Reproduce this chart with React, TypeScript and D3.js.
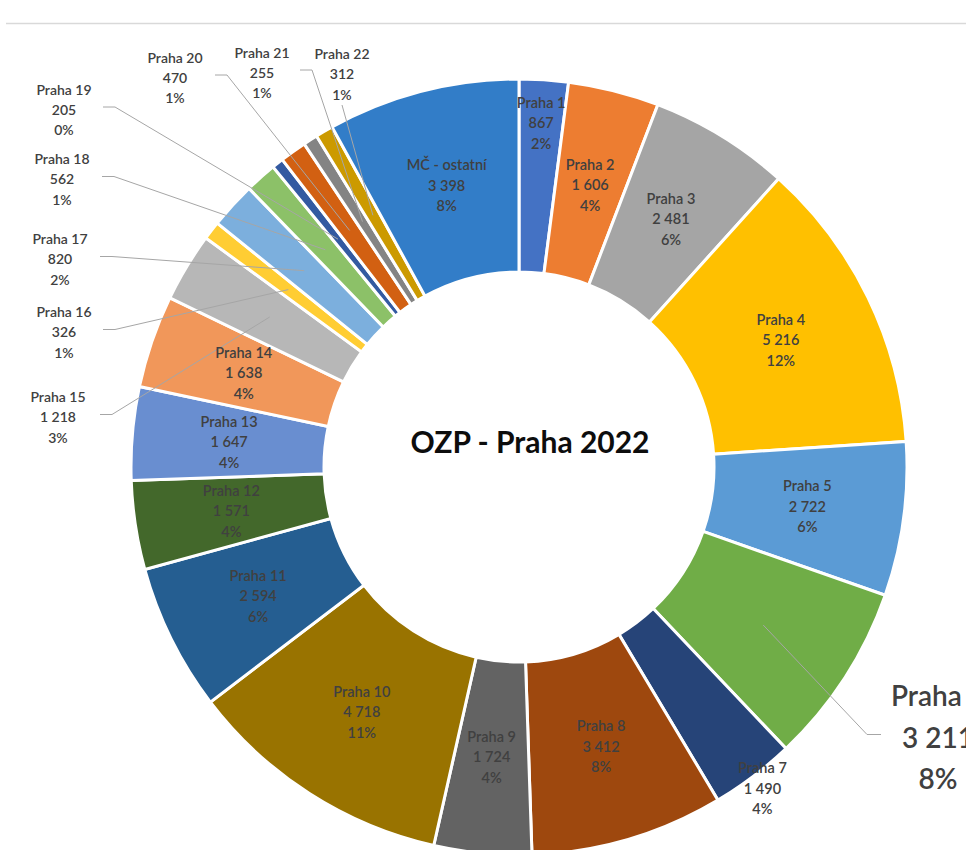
import React from "react";
import * as d3 from "d3";

// Prague districts and their counts
const districts = [
  "Praha 1", "Praha 2", "Praha 3", "Praha 4", "Praha 5", "Praha 6", "Praha 7",
  "Praha 8", "Praha 9", "Praha 10", "Praha 11", "Praha 12", "Praha 13", "Praha 14",
  "Praha 15", "Praha 16", "Praha 17", "Praha 18", "Praha 19", "Praha 20", "Praha 21",
  "Praha 22", "MČ - ostatní",
];
const counts = [
  867, 1606, 2481, 5216, 2722, 3211, 1490, 3412, 1724, 4718, 2594, 1571, 1647, 1638,
  1218, 326, 820, 562, 205, 470, 255, 312, 3398,
];
const palette = [
  "#4472C4", "#ED7D31", "#A5A5A5", "#FFC000", "#5B9BD5", "#70AD47", "#264478",
  "#9E480E", "#636363", "#997300", "#255E91", "#43682B", "#698ED0", "#F1975A",
  "#B7B7B7", "#FFCD33", "#7CAFDD", "#8CC168", "#335AA1", "#D26012", "#848484",
  "#CC9A00", "#327DC8",
];
const chartTitle = "OZP - Praha 2022";

// Layout
const W = 966;
const H = 850;
const cx = 519;
const cy = 467;
const rOuter = 388;
const rInner = 195;
const rLabel = 291;

// Inside labels pushed away from the ring middle
const labelRadius: Record<string, number> = { "Praha 1": 345, "Praha 7": 403 };

// Labels placed outside the ring, with leader lines back to the slice
type Callout = { name: string; x: number; y: number; size: number; gap: number; lead: "right" | "left" | "below"; off: number };
const callouts: Callout[] = [
  { name: "Praha 6", x: 938, y: 695, size: 28, gap: 41.5, lead: "left", off: 57 },
  { name: "Praha 15", x: 58, y: 396, size: 14, gap: 20.5, lead: "right", off: 42 },
  { name: "Praha 16", x: 64, y: 311, size: 14, gap: 20.5, lead: "right", off: 39 },
  { name: "Praha 17", x: 60, y: 238, size: 14, gap: 20.5, lead: "right", off: 40 },
  { name: "Praha 18", x: 62, y: 158, size: 14, gap: 20.5, lead: "right", off: 40 },
  { name: "Praha 19", x: 64, y: 89, size: 14, gap: 20, lead: "right", off: 39 },
  { name: "Praha 20", x: 175, y: 57, size: 14, gap: 20, lead: "right", off: 40 },
  { name: "Praha 21", x: 262, y: 52, size: 14, gap: 20, lead: "right", off: 38 },
  { name: "Praha 22", x: 342, y: 53, size: 14, gap: 20.5, lead: "below", off: 0 },
];

const FONT = "Lato, 'Open Sans', sans-serif";
const TEXT = "#404040";

const fmt = d3.formatLocale({
  decimal: ",",
  thousands: "\u00a0",
  grouping: [3],
  currency: ["", " Kč"],
}).format(",d");

export default function App() {
  const rows = districts.map((name, i) => ({ name, value: counts[i], color: palette[i] }));
  const total = d3.sum(counts);
  const pie = d3
    .pie<(typeof rows)[number]>()
    .value((d) => d.value)
    .sort(null)
    .startAngle(0)
    .endAngle(2 * Math.PI);
  const arcs = pie(rows);
  const arc = d3.arc<d3.PieArcDatum<(typeof rows)[number]>>().innerRadius(rInner).outerRadius(rOuter);
  const at = (d: d3.PieArcDatum<(typeof rows)[number]>, r: number) =>
    d3.arc<d3.PieArcDatum<(typeof rows)[number]>>().innerRadius(r).outerRadius(r).centroid(d);
  const pct = (v: number) => `${Math.round((v / total) * 100)}%`;
  const lines = (d: { name: string; value: number }) => [d.name, fmt(d.value), pct(d.value)];

  const outsideNames = new Set(callouts.map((c) => c.name));

  return (
    <svg
      width={W}
      height={H}
      viewBox={`0 0 ${W} ${H}`}
      style={{ position: "absolute", left: 0, top: 0, display: "block", background: "#fff" }}
    >
      <line x1={6} x2={W} y1={23.5} y2={23.5} stroke="#D9D9D9" strokeWidth={1.5} />
      <g transform={`translate(${cx},${cy})`}>
        {arcs.map((d) => (
          <path key={d.data.name} d={arc(d) ?? ""} fill={d.data.color} stroke="#fff" strokeWidth={3} />
        ))}
        {callouts.map((c) => {
          const d = arcs.find((a) => a.data.name === c.name)!;
          const [ex, ey] = at(d, rLabel);
          const x = c.x - cx;
          let pts: [number, number][];
          if (c.lead === "below") {
            const sy = c.y + 2 * c.gap + 11 - cy;
            pts = [[x, sy], [ex, ey]];
          } else {
            const sy = c.y + c.gap - 2 - cy;
            const sx = c.lead === "right" ? x + c.off : x - c.off;
            const kx = c.lead === "right" ? sx + 12 : sx - 14;
            pts = [[sx, sy], [kx, sy], [ex, ey]];
          }
          return (
            <polyline
              key={`lead-${c.name}`}
              points={pts.map((p) => p.join(",")).join(" ")}
              fill="none"
              stroke="#A6A6A6"
              strokeWidth={1}
            />
          );
        })}
        {arcs
          .filter((d) => !outsideNames.has(d.data.name))
          .map((d) => {
            const [lx, ly] = at(d, labelRadius[d.data.name] ?? rLabel);
            return (
              <text
                key={`lbl-${d.data.name}`}
                x={lx}
                y={ly}
                textAnchor="middle"
                fontFamily={FONT}
                fontSize={14.5}
                fontWeight={600}
                fill={TEXT}
              >
                {lines(d.data).map((t, i) => (
                  <tspan key={i} x={lx} y={ly + (i - 1) * 20.5} dominantBaseline="central">
                    {t}
                  </tspan>
                ))}
              </text>
            );
          })}
      </g>
      {callouts.map((c) => {
        const d = arcs.find((a) => a.data.name === c.name)!;
        return (
          <text
            key={`co-${c.name}`}
            textAnchor="middle"
            fontFamily={FONT}
            fontSize={c.size}
            fontWeight={600}
            fill={TEXT}
          >
            {lines(d.data).map((t, i) => (
              <tspan key={i} x={c.x} y={c.y + i * c.gap} dominantBaseline="central">
                {t}
              </tspan>
            ))}
          </text>
        );
      })}
      <text
        x={530}
        y={441}
        textAnchor="middle"
        dominantBaseline="central"
        fontFamily={FONT}
        fontWeight={700}
        fontSize={30}
        fill="#0D0D0D"
      >
        {chartTitle}
      </text>
    </svg>
  );
}
